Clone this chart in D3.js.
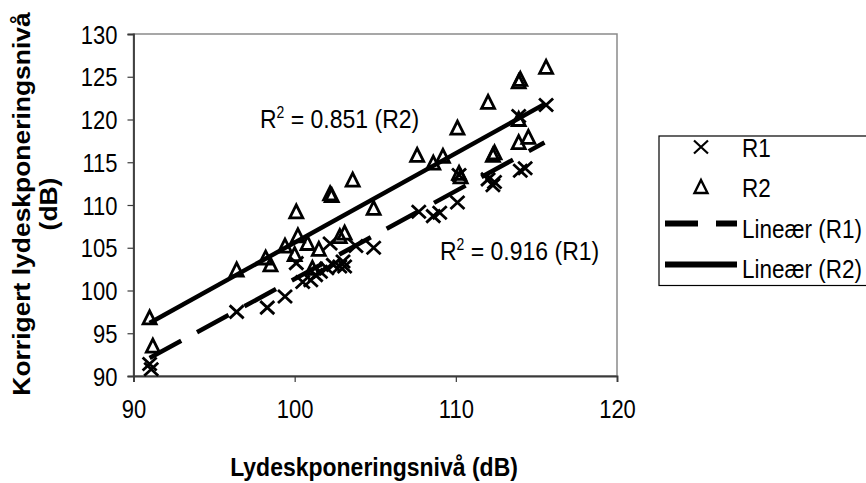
<!DOCTYPE html>
<html>
<head>
<meta charset="utf-8">
<script src="https://cdn.jsdelivr.net/npm/d3@7"></script>
<style>
  body { margin: 0; background: #fff; }
  text { font-family: "Liberation Sans", Arial, sans-serif; fill: #000; }
</style>
</head>
<body>
<div id="chart"></div>
<script>
// R1 measurements (x = Lydeskponeringsnivå, y = korrigert)
var r1X = [91, 91.1, 96.4, 98.3, 99.4, 100.1, 100.5, 101, 101.3, 101.6, 102, 102.2, 102.4, 102.8, 103, 103.1, 103.8, 104.9,
           107.7, 108.6, 109, 110.1, 110.2, 112, 112.3, 112.4, 114, 114.3, 113.9, 115.6];
var r1Y = [91.4, 90.8, 97.5, 98, 99.3, 103.2, 101, 101.2, 101.8, 102.2, 102.6, 105.5, 103, 102.8, 103.4, 102.8, 105.2, 105,
           109.2, 108.7, 109.1, 110.3, 113.5, 113, 112.3, 112.7, 114, 114.3, 120.4, 121.7];

// R2 measurements
var r2X = [91, 91.2, 96.4, 98.2, 98.5, 99.4, 100, 100.1, 100.2, 100.8, 101.1, 101.5, 102.2, 102.3, 102.8, 103.1, 103.6,
           104.9, 107.6, 108.6, 109.2, 110.1, 110.2, 110.3, 112, 112.3, 112.4, 113.9, 114, 113.9, 114.5, 115.6, 113.9];
var r2Y = [96.8, 93.5, 102.4, 103.8, 103, 105.2, 104.2, 109.2, 106.4, 105.5, 102.6, 104.8, 111.3, 111.1, 106.3, 106.7, 112.9,
           109.6, 115.8, 114.9, 115.7, 119, 113.7, 113.3, 122, 115.8, 116.1, 124.4, 124.7, 117.3, 117.9, 126.1, 120];

// trend line end points
var trendR1 = [[91, 92.1], [115.5, 117.3]];
var trendR2 = [[91, 96.2], [115.5, 121.8]];

var xTicks = [90, 100, 110, 120];
var yTicks = [90, 95, 100, 105, 110, 115, 120, 125, 130];

var width = 866, height = 483;
var plotLeft = 133.5, plotRight = 617, plotTop = 34, plotBottom = 376;
var stretch = 1.15; // the original text is drawn a little taller than wide

var svg = d3.select("#chart").append("svg")
    .attr("width", width)
    .attr("height", height);

var x = d3.scaleLinear().domain([90, 120]).range([plotLeft, plotRight]);
var y = d3.scaleLinear().domain([90, 130]).range([plotBottom, plotTop]);

// plot border (grey top/right)
svg.append("rect")
    .attr("x", plotLeft).attr("y", plotTop)
    .attr("width", plotRight - plotLeft).attr("height", plotBottom - plotTop)
    .attr("fill", "none").attr("stroke", "#8a8a8a").attr("stroke-width", 1.5);

// axes
var yAxis = svg.append("g")
    .attr("transform", "translate(" + plotLeft + ",0)")
    .call(d3.axisLeft(y).tickValues(yTicks).tickSize(6).tickPadding(10));
var xAxis = svg.append("g")
    .attr("transform", "translate(0," + plotBottom + ")")
    .call(d3.axisBottom(x).tickValues(xTicks).tickSize(6).tickPadding(21));

[xAxis, yAxis].forEach(function (g) {
    g.select(".domain").attr("stroke", "#3a3a3a").attr("stroke-width", 1.8);
    g.selectAll(".tick line").attr("stroke", "#3a3a3a").attr("stroke-width", 1.2);
    g.selectAll(".tick text")
        .style("font-family", "Liberation Sans, Arial, sans-serif")
        .style("font-size", "22px")
        .attr("fill", "#000");
});
yAxis.selectAll(".tick text").attr("transform", "scale(1," + stretch + ")").attr("dy", "0.36em");
xAxis.selectAll(".tick text").attr("transform", "scale(1," + stretch + ")").attr("y", 24 / stretch);

// trend lines
var line = d3.line()
    .x(function (d) { return x(d[0]); })
    .y(function (d) { return y(d[1]); });

svg.append("path").datum(trendR1)
    .attr("d", line)
    .attr("fill", "none").attr("stroke", "#000").attr("stroke-width", 4.5)
    .attr("stroke-dasharray", "36,18");
svg.append("path").datum(trendR2)
    .attr("d", line)
    .attr("fill", "none").attr("stroke", "#000").attr("stroke-width", 4.5);

// markers
var crossPath = "M-7,-6.5L7,6.5M-7,6.5L7,-6.5";
var triPath = "M0,-7L6.5,6L-6.5,6Z";

var r1 = r1X.map(function (v, i) { return [v, r1Y[i]]; });
var r2 = r2X.map(function (v, i) { return [v, r2Y[i]]; });

svg.append("g").selectAll("path")
    .data(r2).enter().append("path")
    .attr("d", triPath)
    .attr("transform", function (d) { return "translate(" + x(d[0]) + "," + y(d[1]) + ")"; })
    .attr("fill", "none").attr("stroke", "#000").attr("stroke-width", 2.8)
    .attr("stroke-linejoin", "miter");

svg.append("g").selectAll("path")
    .data(r1).enter().append("path")
    .attr("d", crossPath)
    .attr("transform", function (d) { return "translate(" + x(d[0]) + "," + y(d[1]) + ")"; })
    .attr("fill", "none").attr("stroke", "#000").attr("stroke-width", 2.8);

// horizontal text, stretched a bit in height like the original
function label(px, py, size, str, bold) {
    var t = svg.append("g")
        .attr("transform", "translate(" + px + "," + py + ") scale(1," + stretch + ")")
        .append("text")
        .style("font-size", size + "px");
    if (bold) t.style("font-weight", "bold");
    if (str) t.text(str);
    return t;
}

// R² labels
function r2Label(px, py, val) {
    var t = label(px, py, 23);
    t.append("tspan").text("R");
    t.append("tspan").attr("dy", -9).style("font-size", "14px").text("2");
    t.append("tspan").attr("dy", 9).text(" = " + val);
}
r2Label(260, 128, "0.851 (R2)");
r2Label(440, 260, "0.916 (R1)");

// axis titles
label(374, 476, 23, "Lydeskponeringsnivå (dB)", true).attr("text-anchor", "middle");

var yt = svg.append("text")
    .attr("transform", "translate(30,204) rotate(-90) scale(" + stretch + ",1)")
    .attr("text-anchor", "middle")
    .style("font-size", "23px").style("font-weight", "bold");
yt.append("tspan").attr("x", 0).attr("y", 0).text("Korrigert lydeskponeringsnivå");
yt.append("tspan").attr("x", 0).attr("y", 27).text("(dB)");

// legend
var lg = svg.append("g");
lg.append("rect")
    .attr("x", 659).attr("y", 136).attr("width", 220).attr("height", 149.5)
    .attr("fill", "#fff").attr("stroke", "#000").attr("stroke-width", 1.2);

lg.append("path").attr("d", crossPath)
    .attr("transform", "translate(701,147)")
    .attr("fill", "none").attr("stroke", "#000").attr("stroke-width", 2.2);
lg.append("path").attr("d", triPath)
    .attr("transform", "translate(701,187)")
    .attr("fill", "none").attr("stroke", "#000").attr("stroke-width", 2.4);
lg.append("line").attr("x1", 665).attr("x2", 737).attr("y1", 223.5).attr("y2", 223.5)
    .attr("stroke", "#000").attr("stroke-width", 6).attr("stroke-dasharray", "33,18");
lg.append("line").attr("x1", 665).attr("x2", 737).attr("y1", 264.5).attr("y2", 264.5)
    .attr("stroke", "#000").attr("stroke-width", 6);

var legendLabels = [["R1", 157], ["R2", 197], ["Lineær (R1)", 238], ["Lineær (R2)", 278]];
legendLabels.forEach(function (l) {
    label(742, l[1], 22.5, l[0]);
});
</script>
</body>
</html>
